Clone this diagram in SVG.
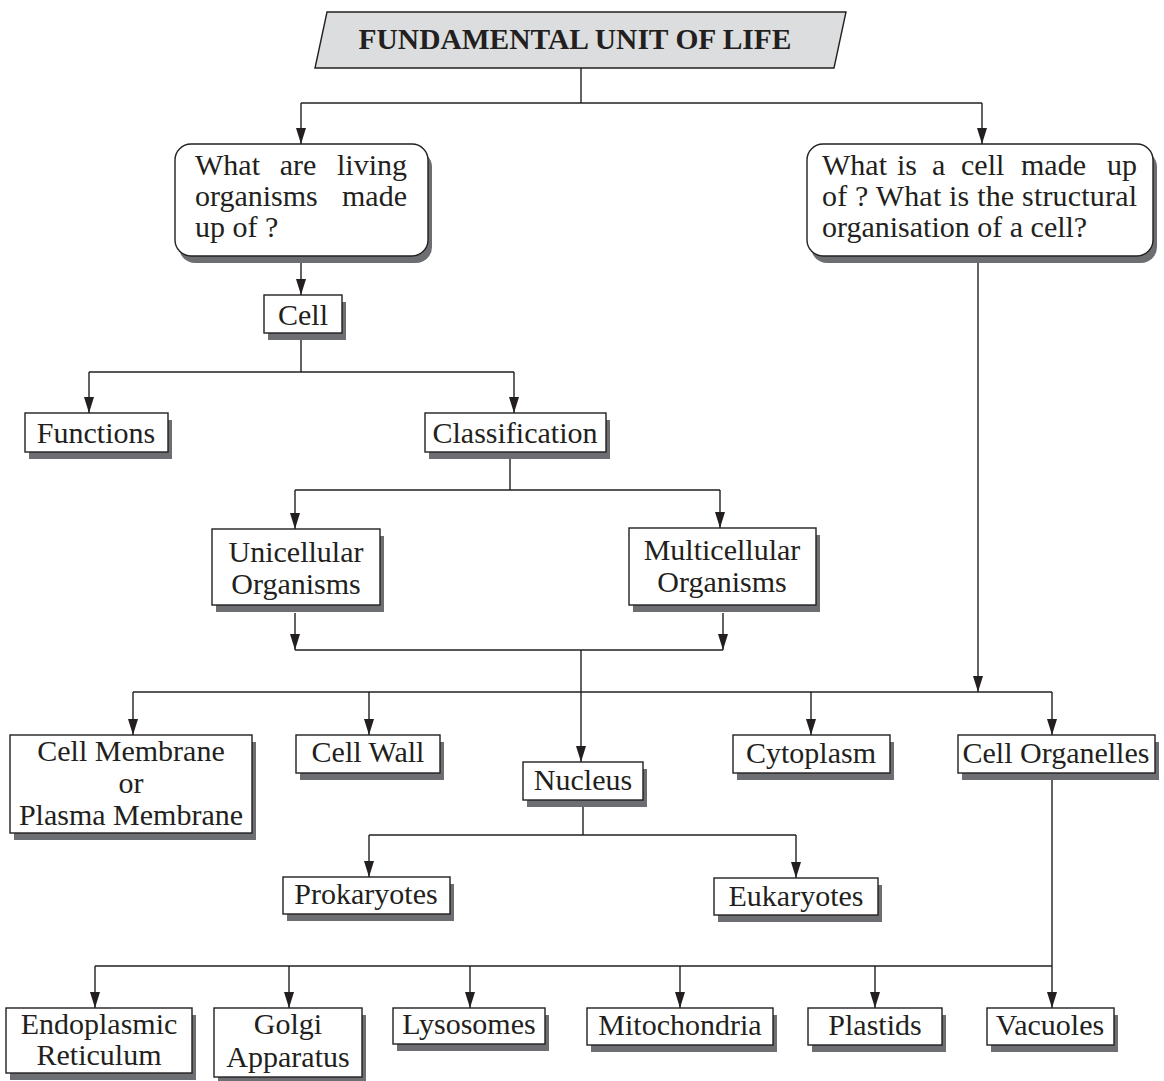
<svg xmlns="http://www.w3.org/2000/svg" width="1164" height="1081" viewBox="0 0 1164 1081">
<defs>
<style>
.box{fill:#fff;stroke:#231f20;stroke-width:1.4}
.sh{fill:#6d6e71}
.t{font-family:"Liberation Serif","DejaVu Serif",serif;font-size:30px;font-weight:normal;fill:#231f20}
.c{text-anchor:middle}
.e{text-anchor:end}
.ttl{font-family:"Liberation Serif","DejaVu Serif",serif;font-size:29.5px;font-weight:bold;fill:#231f20;text-anchor:middle}
.ln{fill:none;stroke:#231f20;stroke-width:1.4}
</style>
<marker id="ah" markerUnits="userSpaceOnUse" markerWidth="16" markerHeight="10" viewBox="0 0 16 10" refX="16" refY="5" orient="auto">
<path d="M0,0 L16,5 L0,10 z" fill="#231f20"/>
</marker>
</defs>
<rect width="1164" height="1081" fill="#fff"/>

<g id="connectors">
<path class="ln" d="M581,68 V103"/>
<path class="ln" d="M301,103 H982"/>
<path class="ln" d="M301,103 V144" marker-end="url(#ah)"/>
<path class="ln" d="M982,103 V144" marker-end="url(#ah)"/>
<path class="ln" d="M301,256 V295" marker-end="url(#ah)"/>
<path class="ln" d="M301,333 V372 M89,372 H514"/>
<path class="ln" d="M89,372 V413" marker-end="url(#ah)"/>
<path class="ln" d="M514,372 V413" marker-end="url(#ah)"/>
<path class="ln" d="M510,452 V490 M295,490 H720"/>
<path class="ln" d="M295,490 V529" marker-end="url(#ah)"/>
<path class="ln" d="M720,490 V528" marker-end="url(#ah)"/>
<path class="ln" d="M295,613 V650" marker-end="url(#ah)"/>
<path class="ln" d="M723,613 V650" marker-end="url(#ah)"/>
<path class="ln" d="M295,650 H723"/>
<path class="ln" d="M581,650 V762" marker-end="url(#ah)"/>
<path class="ln" d="M133,692 H1052"/>
<path class="ln" d="M133,692 V735" marker-end="url(#ah)"/>
<path class="ln" d="M369,692 V735" marker-end="url(#ah)"/>
<path class="ln" d="M811,692 V735" marker-end="url(#ah)"/>
<path class="ln" d="M1052,692 V735" marker-end="url(#ah)"/>
<path class="ln" d="M978,256 V692" marker-end="url(#ah)"/>
<path class="ln" d="M583,800 V835 M369,835 H796"/>
<path class="ln" d="M369,835 V877" marker-end="url(#ah)"/>
<path class="ln" d="M796,835 V878" marker-end="url(#ah)"/>
<path class="ln" d="M1052,773 V1008" marker-end="url(#ah)"/>
<path class="ln" d="M95,966 H1052"/>
<path class="ln" d="M95,966 V1008" marker-end="url(#ah)"/>
<path class="ln" d="M289,966 V1008" marker-end="url(#ah)"/>
<path class="ln" d="M470,966 V1008" marker-end="url(#ah)"/>
<path class="ln" d="M680,966 V1008" marker-end="url(#ah)"/>
<path class="ln" d="M875,966 V1008" marker-end="url(#ah)"/>
</g>

<g id="title">
<path d="M327,12 H846 L834,68 H315 Z" fill="#dcddde" stroke="#231f20" stroke-width="1.4"/>
<text class="ttl" x="575" y="49">FUNDAMENTAL UNIT OF LIFE</text>
</g>

<g id="q1">
<rect class="sh" x="179" y="151" width="253" height="112" rx="16"/>
<rect class="box" x="175" y="144" width="253" height="112" rx="16"/>
<text class="t" x="195" y="175">What</text>
<text class="t c" x="298" y="175">are</text>
<text class="t e" x="407" y="175">living</text>
<text class="t" x="195" y="206">organisms</text>
<text class="t e" x="407" y="206">made</text>
<text class="t" x="195" y="237">up of ?</text>
</g>

<g id="q2">
<rect class="sh" x="811" y="151" width="346" height="112" rx="16"/>
<rect class="box" x="807" y="144" width="346" height="112" rx="16"/>
<text class="t" x="822" y="175">What</text>
<text class="t" x="897" y="175">is</text>
<text class="t" x="932" y="175">a</text>
<text class="t" x="961" y="175">cell</text>
<text class="t" x="1021" y="175">made</text>
<text class="t e" x="1137" y="175">up</text>
<text class="t" x="822" y="206" textLength="315" lengthAdjust="spacing">of ? What is the structural</text>
<text class="t" x="822" y="237">organisation of a cell?</text>
</g>

<g id="cell">
<rect class="sh" x="268" y="302" width="78" height="38"/>
<rect class="box" x="264" y="295" width="78" height="38"/>
<text class="t c" x="303" y="325">Cell</text>
</g>

<g id="functions">
<rect class="sh" x="29" y="420" width="143" height="39"/>
<rect class="box" x="25" y="413" width="143" height="39"/>
<text class="t c" x="96" y="443">Functions</text>
</g>

<g id="classification">
<rect class="sh" x="429" y="420" width="181" height="39"/>
<rect class="box" x="425" y="413" width="181" height="39"/>
<text class="t c" x="515" y="443">Classification</text>
</g>

<g id="unicellular">
<rect class="sh" x="216" y="536" width="168" height="76"/>
<rect class="box" x="212" y="529" width="168" height="76"/>
<text class="t c" x="296" y="562">Unicellular</text>
<text class="t c" x="296" y="594">Organisms</text>
</g>

<g id="multicellular">
<rect class="sh" x="633" y="535" width="187" height="77"/>
<rect class="box" x="629" y="528" width="187" height="77"/>
<text class="t c" x="722" y="560">Multicellular</text>
<text class="t c" x="722" y="592">Organisms</text>
</g>

<g id="cellmembrane">
<rect class="sh" x="14" y="742" width="242" height="98"/>
<rect class="box" x="10" y="735" width="242" height="98"/>
<text class="t c" x="131" y="761">Cell Membrane</text>
<text class="t c" x="131" y="793">or</text>
<text class="t c" x="131" y="825">Plasma Membrane</text>
</g>

<g id="cellwall">
<rect class="sh" x="300" y="742" width="144" height="38"/>
<rect class="box" x="296" y="735" width="144" height="38"/>
<text class="t c" x="368" y="762">Cell Wall</text>
</g>

<g id="nucleus">
<rect class="sh" x="527" y="769" width="120" height="38"/>
<rect class="box" x="523" y="762" width="120" height="38"/>
<text class="t c" x="583" y="790">Nucleus</text>
</g>

<g id="cytoplasm">
<rect class="sh" x="737" y="742" width="157" height="38"/>
<rect class="box" x="733" y="735" width="157" height="38"/>
<text class="t c" x="811" y="763">Cytoplasm</text>
</g>

<g id="organelles">
<rect class="sh" x="962" y="742" width="197" height="38"/>
<rect class="box" x="958" y="735" width="197" height="38"/>
<text class="t c" x="1056" y="763">Cell Organelles</text>
</g>

<g id="prokaryotes">
<rect class="sh" x="287" y="884" width="167" height="37"/>
<rect class="box" x="283" y="877" width="167" height="37"/>
<text class="t c" x="366" y="904">Prokaryotes</text>
</g>

<g id="eukaryotes">
<rect class="sh" x="718" y="885" width="164" height="37"/>
<rect class="box" x="714" y="878" width="164" height="37"/>
<text class="t c" x="796" y="906">Eukaryotes</text>
</g>

<g id="er">
<rect class="sh" x="10" y="1015" width="186" height="65"/>
<rect class="box" x="6" y="1008" width="186" height="65"/>
<text class="t c" x="99" y="1034">Endoplasmic</text>
<text class="t c" x="99" y="1065">Reticulum</text>
</g>

<g id="golgi">
<rect class="sh" x="218" y="1015" width="148" height="69"/>
<rect class="box" x="214" y="1008" width="148" height="69"/>
<text class="t c" x="288" y="1034">Golgi</text>
<text class="t c" x="288" y="1067">Apparatus</text>
</g>

<g id="lysosomes">
<rect class="sh" x="397" y="1015" width="152" height="36"/>
<rect class="box" x="393" y="1008" width="152" height="36"/>
<text class="t c" x="469" y="1034">Lysosomes</text>
</g>

<g id="mitochondria">
<rect class="sh" x="591" y="1015" width="186" height="37"/>
<rect class="box" x="587" y="1008" width="186" height="37"/>
<text class="t c" x="680" y="1035">Mitochondria</text>
</g>

<g id="plastids">
<rect class="sh" x="812" y="1015" width="134" height="37"/>
<rect class="box" x="808" y="1008" width="134" height="37"/>
<text class="t c" x="875" y="1035">Plastids</text>
</g>

<g id="vacuoles">
<rect class="sh" x="991" y="1015" width="127" height="37"/>
<rect class="box" x="987" y="1008" width="127" height="37"/>
<text class="t c" x="1050" y="1035">Vacuoles</text>
</g>
</svg>
